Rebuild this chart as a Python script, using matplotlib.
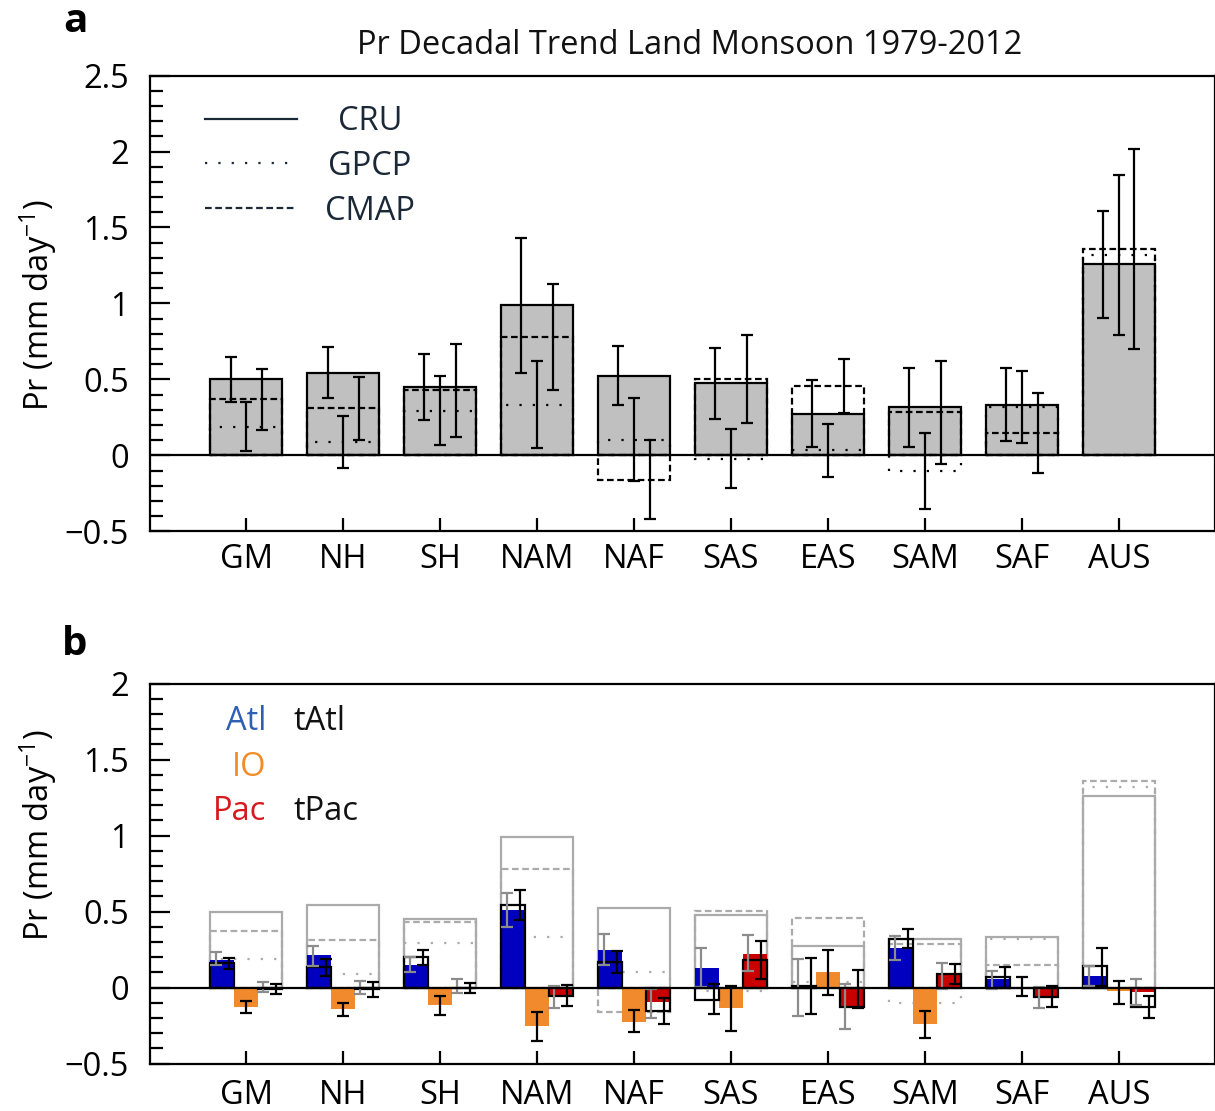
import matplotlib
matplotlib.use("Agg")
import matplotlib.pyplot as plt
import numpy as np
from matplotlib.lines import Line2D
from matplotlib.ticker import MultipleLocator

plt.rcParams['font.family'] = ['Open Sans', 'DejaVu Sans']
plt.rcParams['mathtext.fontset'] = 'custom'
plt.rcParams['mathtext.rm'] = 'Open Sans'
plt.rcParams['mathtext.it'] = 'Open Sans:italic'

# ---------------- data ----------------
cats = ['GM', 'NH', 'SH', 'NAM', 'NAF', 'SAS', 'EAS', 'SAM', 'SAF', 'AUS']

# panel a: land monsoon decadal precipitation trend (mm/day)
cru = [0.50, 0.544, 0.452, 0.989, 0.526, 0.474, 0.276, 0.318, 0.333, 1.257]
cru_err = [0.145, 0.167, 0.216, 0.444, 0.194, 0.235, 0.22, 0.259, 0.24, 0.354]
gpcp = [0.19, 0.09, 0.296, 0.335, 0.105, -0.02, 0.033, -0.103, 0.318, 1.32]
gpcp_err = [0.16, 0.171, 0.23, 0.284, 0.272, 0.193, 0.172, 0.248, 0.236, 0.524]
cmap = [0.37, 0.311, 0.428, 0.78, -0.158, 0.502, 0.458, 0.283, 0.149, 1.357]
cmap_err = [0.20, 0.208, 0.305, 0.346, 0.259, 0.289, 0.176, 0.336, 0.265, 0.657]

# panel b: contributions of ocean basins
atl = [0.178, 0.217, 0.151, 0.513, 0.25, 0.129, 0.005, 0.257, 0.053, 0.075]
atl_lo = [0.147, 0.14, 0.103, 0.399, 0.151, 0.005, -0.189, 0.18, -0.013, 0.009]
atl_hi = [0.232, 0.276, 0.2, 0.623, 0.349, 0.259, 0.189, 0.342, 0.107, 0.14]
tatl = [0.162, 0.136, 0.2, 0.542, 0.169, -0.079, 0.009, 0.32, 0.068, 0.14]
tatl_lo = [0.123, 0.075, 0.145, 0.443, 0.096, -0.173, -0.173, 0.257, -0.004, 0.013]
tatl_hi = [0.195, 0.189, 0.25, 0.643, 0.239, 0.02, 0.195, 0.386, 0.136, 0.261]
io = [-0.127, -0.14, -0.118, -0.254, -0.224, -0.134, 0.099, -0.243, -0.01, -0.026]
io_lo = [-0.171, -0.189, -0.178, -0.353, -0.294, -0.283, -0.05, -0.331, -0.053, -0.107]
io_hi = [-0.09, -0.105, -0.057, -0.16, -0.151, 0.009, 0.25, -0.156, 0.07, 0.042]
pac = [-0.005, -0.005, -0.005, -0.053, -0.096, 0.222, -0.127, 0.086, -0.061, -0.028]
pac_lo = [-0.031, -0.046, -0.035, -0.134, -0.2, 0.107, -0.272, -0.013, -0.138, -0.112]
pac_hi = [0.037, 0.042, 0.053, 0.009, -0.01, 0.347, 0.02, 0.162, 0.005, 0.057]
tpac = [-0.01, -0.01, -0.005, -0.057, -0.156, 0.18, -0.125, 0.09, -0.064, -0.129]
tpac_lo = [-0.042, -0.061, -0.039, -0.123, -0.237, 0.057, -0.134, 0.02, -0.127, -0.2]
tpac_hi = [0.026, 0.037, 0.031, 0.015, -0.072, 0.305, 0.114, 0.156, 0.013, -0.057]

yticks_a = [-0.5, 0, 0.5, 1, 1.5, 2, 2.5]
ylabels_a = ['\u22120.5', '0', '0.5', '1', '1.5', '2', '2.5']
yticks_b = [-0.5, 0, 0.5, 1, 1.5, 2]
ylabels_b = ['\u22120.5', '0', '0.5', '1', '1.5', '2']

# ---------------- styles ----------------
W, H = 1215, 1111
fig = plt.figure(figsize=(W / 100, H / 100), dpi=100)
LW = 1.6
DOT = (0, (1, 5))
DASH = (0, (3, 1.6))
GRAYBOX = '#ababab'
GRAYERR = '#8c8c8c'
BLUE = '#0000be'
ORANGE = '#f08a2c'
RED = '#c80000'
TXT = '#1b2838'
CAP = 4.3

x = np.arange(1, len(cats) + 1)


def style_axes(ax, yticks, ylabels, ylim, xpad):
    ax.set_xlim(0.01, 10.99)
    ax.set_ylim(*ylim)
    ax.set_xticks(x)
    ax.set_xticklabels(cats)
    ax.set_yticks(yticks)
    ax.set_yticklabels(ylabels)
    ax.yaxis.set_minor_locator(MultipleLocator(0.1))
    ax.tick_params(axis='y', which='major', direction='in', length=14.5, width=LW,
                   pad=15, labelsize=23.5, right=False)
    ax.tick_params(axis='y', which='minor', direction='in', length=9, width=LW, right=False)
    ax.tick_params(axis='x', which='major', direction='in', length=9.5, width=LW,
                   pad=xpad, labelsize=23.5, top=False)
    for s in ax.spines.values():
        s.set_linewidth(LW)
    ax.axhline(0, color='k', lw=LW, zorder=10)


def errbar(ax, xpos, lo, hi, color):
    lo = np.asarray(lo)
    hi = np.asarray(hi)
    mid = (lo + hi) / 2
    ax.errorbar(xpos, mid, yerr=(hi - lo) / 2, fmt='none', ecolor=color,
                elinewidth=LW, capsize=CAP, capthick=LW, zorder=8)


# ---------------- panel a ----------------
axa = fig.add_axes([150 / W, 1 - 531.5 / H, 1065 / W, 456 / H])
axa.bar(x, cru, width=0.75, color='#c0c0c0', edgecolor='k', lw=LW, zorder=2)
axa.bar(x, gpcp, width=0.75, fill=False, edgecolor='k', lw=LW, linestyle=DOT, zorder=3)
axa.bar(x, cmap, width=0.75, fill=False, edgecolor='k', lw=LW, linestyle=DASH, zorder=3)
for off, val, err in [(-0.16, cru, cru_err), (0.0, gpcp, gpcp_err), (0.16, cmap, cmap_err)]:
    axa.errorbar(x + off, val, yerr=err, fmt='none', ecolor='k', elinewidth=LW,
                 capsize=CAP, capthick=LW, zorder=8)
style_axes(axa, yticks_a, ylabels_a, (-0.5, 2.5), 8)

# legend panel a
for yy, ls, lab in [(119, '-', 'CRU'), (163, DOT, 'GPCP'), (208, DASH, 'CMAP')]:
    fig.add_artist(Line2D([205 / W, 297 / W], [1 - yy / H] * 2, color=TXT, lw=LW, linestyle=ls))
    fig.text(370 / W, 1 - (yy + 3) / H, lab, ha='center', va='center', fontsize=23.5, color=TXT)

fig.text(690 / W, 1 - 46 / H, 'Pr Decadal Trend Land Monsoon 1979-2012',
         ha='center', va='center', fontsize=23.5, color='#111111')

# ---------------- panel b ----------------
axb = fig.add_axes([150 / W, 1 - 1063.5 / H, 1065 / W, 380 / H])
axb.bar(x, cru, width=0.75, fill=False, edgecolor=GRAYBOX, lw=LW, zorder=2)
axb.bar(x, gpcp, width=0.75, fill=False, edgecolor=GRAYBOX, lw=LW, linestyle=DOT, zorder=2)
axb.bar(x, cmap, width=0.75, fill=False, edgecolor=GRAYBOX, lw=LW, linestyle=DASH, zorder=2)
axb.bar(x - 0.25, atl, width=0.25, color=BLUE, lw=0, zorder=3)
axb.bar(x, io, width=0.25, color=ORANGE, lw=0, zorder=3)
axb.bar(x + 0.25, pac, width=0.25, color=RED, lw=0, zorder=3)
axb.bar(x - 0.25, tatl, width=0.25, fill=False, edgecolor='k', lw=LW, zorder=4)
axb.bar(x + 0.25, tpac, width=0.25, fill=False, edgecolor='k', lw=LW, zorder=4)
errbar(axb, x - 0.31, atl_lo, atl_hi, GRAYERR)
errbar(axb, x - 0.18, tatl_lo, tatl_hi, 'k')
errbar(axb, x, io_lo, io_hi, 'k')
errbar(axb, x + 0.18, pac_lo, pac_hi, GRAYERR)
errbar(axb, x + 0.31, tpac_lo, tpac_hi, 'k')
style_axes(axb, yticks_b, ylabels_b, (-0.5, 2.0), 11)

# legend panel b
fig.text(266 / W, 1 - 722 / H, 'Atl', ha='right', va='center', fontsize=23.5, color='#2f5fb3')
fig.text(294 / W, 1 - 722 / H, 'tAtl', ha='left', va='center', fontsize=23.5, color='#111111')
fig.text(266 / W, 1 - 767 / H, 'IO', ha='right', va='center', fontsize=23.5, color='#f28c28')
fig.text(266 / W, 1 - 811 / H, 'Pac', ha='right', va='center', fontsize=23.5, color='#d7191c')
fig.text(294 / W, 1 - 811 / H, 'tPac', ha='left', va='center', fontsize=23.5, color='#111111')

# y labels and panel letters
ylab = r'Pr (mm day$^{-1}$)'
fig.text(38 / W, 1 - 305 / H, ylab, rotation=90, ha='center', va='center', fontsize=23.5)
fig.text(38 / W, 1 - 835 / H, ylab, rotation=90, ha='center', va='center', fontsize=23.5)
fig.text(75 / W, 1 - 32 / H, 'a', ha='center', va='baseline', fontsize=29, fontweight='bold')
fig.text(75 / W, 1 - 655 / H, 'b', ha='center', va='baseline', fontsize=29, fontweight='bold')

fig.savefig('out.png', dpi=100)
